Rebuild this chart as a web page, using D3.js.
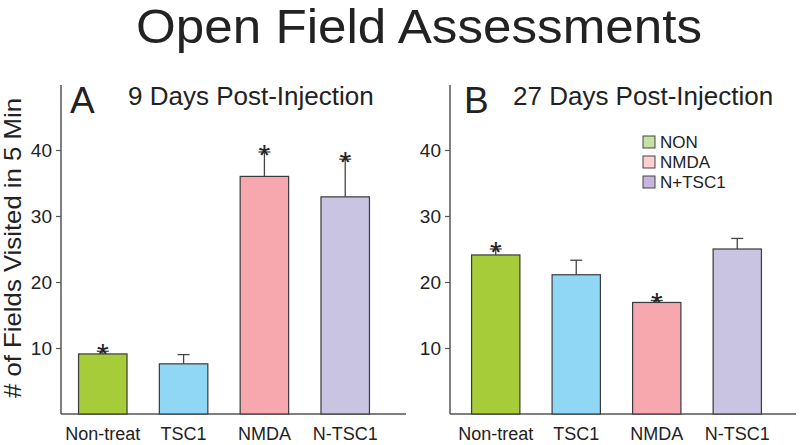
<!DOCTYPE html>
<html>
<head>
<meta charset="utf-8">
<script src="https://cdn.jsdelivr.net/npm/d3@7"></script>
<style>
  html, body { margin: 0; padding: 0; background: #fff; }
  svg { display: block; }
  text { font-family: "Liberation Sans", Arial, Helvetica, sans-serif; fill: #222; }
</style>
</head>
<body>
<svg id="chart" width="800" height="445"></svg>
<script>
// ---- Data ----
const categories = ["Non-treat", "TSC1", "NMDA", "N-TSC1"];
const barColors = ["#a6cc3a", "#8fd7f5", "#f6a8ae", "#c8c4e2"];
const day9Means = [9.1, 7.6, 36.0, 32.9];
const day9Errors = [0.4, 1.4, 3.7, 5.7];
const day9Sig = [true, false, true, true];
const day27Means = [24.1, 21.1, 16.9, 25.0];
const day27Errors = [0.9, 2.2, 0.3, 1.6];
const day27Sig = [true, false, true, false];
const yTicks = [10, 20, 30, 40];
const legendLabels = ["NON", "NMDA", "N+TSC1"];
const legendColors = ["#c6e0a6", "#fccfd5", "#c9b6dd"];
const mainTitle = "Open Field Assessments";
const yTitle = "# of Fields Visited in 5 Min";

const FONT = "'Liberation Sans', Arial, sans-serif";
const svg = d3.select("#chart");
const axisColor = "#555";

const y = d3.scaleLinear().domain([0, 50]).range([414, 84]);

svg.append("text")
  .attr("x", 419).attr("y", 43)
  .attr("text-anchor", "middle")
  .attr("font-size", 49)
  .attr("font-family", FONT)
  .attr("textLength", 566).attr("lengthAdjust", "spacingAndGlyphs")
  .style("fill", "#222")
  .text(mainTitle);

svg.append("text")
  .attr("transform", "translate(21,248) rotate(-90)")
  .attr("text-anchor", "middle")
  .attr("font-size", 24)
  .attr("font-family", FONT)
  .attr("textLength", 300).attr("lengthAdjust", "spacingAndGlyphs")
  .text(yTitle);

function panel(opts) {
  const g = svg.append("g").attr("font-family", FONT);
  const x = d3.scaleBand().domain(categories)
    .range([opts.x0, opts.x1]).paddingInner(0.4).paddingOuter(opts.po);

  // y axis
  const ay = g.append("g").attr("transform", `translate(${opts.x0},0)`)
    .call(d3.axisLeft(y).tickValues(yTicks).tickSize(5).tickPadding(4).tickFormat(d3.format("d")));
  ay.select(".domain").remove();
  ay.selectAll(".tick line").attr("stroke", axisColor).attr("stroke-width", 1.2);
  ay.selectAll(".tick text").attr("font-size", 19).style("fill", "#222")
    .attr("font-family", FONT);
  g.append("line").attr("x1", opts.x0).attr("x2", opts.x0)
    .attr("y1", y(0)).attr("y2", y(50) + 1)
    .attr("stroke", axisColor).attr("stroke-width", 1.5);
  // x baseline
  g.append("line").attr("x1", opts.x0).attr("x2", opts.xEnd)
    .attr("y1", y(0)).attr("y2", y(0))
    .attr("stroke", axisColor).attr("stroke-width", 1.5);

  // x labels via axis
  const ax = g.append("g").attr("transform", `translate(0,${y(0)})`)
    .call(d3.axisBottom(x).tickSize(0).tickPadding(13));
  ax.select(".domain").remove();
  ax.selectAll(".tick text").attr("font-size", 18).style("fill", "#222")
    .attr("font-family", FONT);

  const data = categories.map((c, i) => ({c, v: opts.means[i], e: opts.errs[i], s: opts.sig[i], col: barColors[i]}));

  // error bars
  data.forEach(d => {
    const cx = x(d.c) + x.bandwidth() / 2;
    g.append("line").attr("x1", cx).attr("x2", cx)
      .attr("y1", y(d.v)).attr("y2", y(d.v + d.e))
      .attr("stroke", "#444").attr("stroke-width", 1.3);
    g.append("line").attr("x1", cx - 6).attr("x2", cx + 6)
      .attr("y1", y(d.v + d.e)).attr("y2", y(d.v + d.e))
      .attr("stroke", "#444").attr("stroke-width", 1.3);
    if (d.s) {
      g.append("text").attr("x", cx).attr("y", y(d.v + d.e) + 13)
        .attr("text-anchor", "middle").attr("font-size", 30)
        .text("*");
    }
  });

  g.selectAll("rect.bar").data(data).join("rect").attr("class", "bar")
    .attr("x", d => x(d.c)).attr("width", x.bandwidth())
    .attr("y", d => y(d.v)).attr("height", d => y(0) - y(d.v))
    .attr("fill", d => d.col).attr("stroke", "#3a3a3a").attr("stroke-width", 1.2);

  g.append("text").attr("x", opts.letterX).attr("y", 113)
    .attr("font-size", 37).text(opts.letter);
  g.append("text").attr("x", opts.subX).attr("y", 105)
    .attr("font-size", 26).text(opts.sub);
  return g;
}

panel({x0: 61, x1: 387, po: 0.217, xEnd: 406, means: day9Means, errs: day9Errors, sig: day9Sig,
  letter: "A", letterX: 70, sub: "9 Days Post-Injection", subX: 128});
panel({x0: 450, x1: 783, po: 0.268, xEnd: 796, means: day27Means, errs: day27Errors, sig: day27Sig,
  letter: "B", letterX: 464, sub: "27 Days Post-Injection", subX: 513});

// legend
const lg = svg.append("g").attr("font-family", FONT);
legendLabels.forEach((t, i) => {
  const cy = 142 + i * 20;
  lg.append("rect").attr("x", 643).attr("y", cy - 6).attr("width", 12).attr("height", 12)
    .attr("fill", legendColors[i]).attr("stroke", "#444").attr("stroke-width", 1);
  lg.append("text").attr("x", 660).attr("y", cy + 6).attr("font-size", 17).text(t);
});
</script>
</body>
</html>
